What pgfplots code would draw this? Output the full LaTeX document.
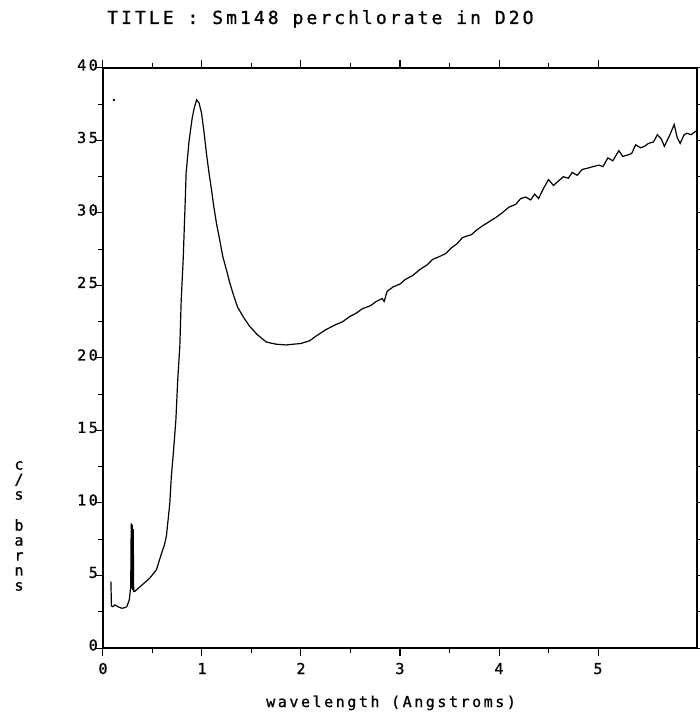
\documentclass[border=0pt]{standalone}
\usepackage{pgfplots}
\pgfplotsset{compat=1.18}
\usepackage{fontspec}
\newfontfamily\mono[LetterSpace=17, FakeBold=1]{DejaVu Sans Mono}
\begin{document}
\begin{tikzpicture}
\useasboundingbox (-103pt,-67pt) rectangle (597pt,648pt);
\begin{axis}[
  at={(0,0)}, anchor=south west,
  scale only axis, width=594pt, height=580pt,
  xmin=0, xmax=6, ymin=0, ymax=40,
  xtick={0,1,2,3,4,5}, ytick={0,5,10,15,20,25,30,35,40},
  minor x tick num=1, minor y tick num=1,
  tick align=outside,
  major tick length=8pt, minor tick length=5pt,
  axis line style={line width=1.4pt},
  every tick/.style={black, line width=1pt},
  /pgf/number format/assume math mode=true,
  xticklabel style={font=\mono\fontsize{15}{15}\selectfont, anchor=base, yshift=-18pt},
  yticklabel style={font=\mono\fontsize{15}{15}\selectfont, anchor=east, inner sep=0pt, xshift=3pt, yshift=3pt},
  xlabel={wavelength (Angstroms)},
  xlabel style={font=\mono\fontsize{15}{15}\selectfont, at={(rel axis cs:0.485,0)}, anchor=base, yshift=-59pt},
  clip=false,
]
\addplot[black, line width=1.2pt] coordinates {
(0.08,4.57) (0.085,2.9) (0.10,2.85) (0.12,2.97) (0.15,2.85) (0.19,2.74) (0.22,2.78)
(0.24,2.85) (0.265,3.3) (0.28,4.2) (0.285,8.6) (0.29,4.1) (0.295,8.5) (0.30,4.0)
(0.305,8.2) (0.31,3.9) (0.32,3.9) (0.37,4.2) (0.42,4.5) (0.47,4.8) (0.54,5.4)
(0.59,6.5) (0.62,7.1) (0.64,7.7) (0.66,9.0) (0.675,10.0) (0.69,11.8) (0.71,13.4)
(0.736,15.7) (0.755,18.5) (0.776,20.8) (0.79,24.0) (0.81,26.8) (0.83,30.7)
(0.84,32.8) (0.87,35.0) (0.90,36.5) (0.92,37.2) (0.945,37.8) (0.97,37.6)
(0.995,36.9) (1.02,35.6) (1.045,34.1) (1.07,32.8) (1.096,31.6) (1.12,30.4)
(1.146,29.3) (1.18,28.1) (1.21,27.0) (1.25,26.0) (1.28,25.2) (1.32,24.3)
(1.36,23.5) (1.42,22.8) (1.48,22.2) (1.56,21.6) (1.65,21.1) (1.75,20.95)
(1.85,20.9) (1.92,20.95) (2.0,21.0) (2.09,21.2) (2.15,21.5) (2.25,21.95)
(2.35,22.3) (2.42,22.5) (2.49,22.85) (2.56,23.1) (2.62,23.4) (2.70,23.6)
(2.76,23.9) (2.82,24.1) (2.84,23.9) (2.87,24.6) (2.93,24.9) (3.0,25.1)
(3.05,25.4) (3.13,25.7) (3.2,26.1) (3.27,26.4) (3.33,26.8) (3.40,27.0)
(3.46,27.2) (3.52,27.6) (3.58,27.9) (3.63,28.3) (3.67,28.4) (3.72,28.5)
(3.77,28.8) (3.83,29.1) (3.9,29.4) (3.97,29.7) (4.03,30.0) (4.1,30.4)
(4.17,30.6) (4.22,31.0) (4.27,31.1) (4.32,30.9) (4.36,31.3) (4.4,31.0)
(4.45,31.7) (4.5,32.3) (4.55,31.9) (4.6,32.2) (4.65,32.5) (4.7,32.4)
(4.74,32.8) (4.79,32.6) (4.84,33.0) (4.9,33.1) (4.95,33.2) (5.01,33.3)
(5.05,33.2) (5.1,33.8) (5.15,33.6) (5.21,34.3) (5.25,33.9) (5.3,34.0)
(5.34,34.1) (5.38,34.7) (5.43,34.5) (5.47,34.6) (5.51,34.8) (5.56,34.9)
(5.6,35.4) (5.64,35.1) (5.67,34.6) (5.72,35.3) (5.77,36.1) (5.8,35.2)
(5.83,34.8) (5.87,35.4) (5.9,35.5) (5.94,35.4) (5.98,35.6) (6.0,35.7)
};
\addplot[only marks, mark=*, mark size=1pt, black] coordinates {(0.11,37.8)};
\end{axis}
\node[font=\mono\fontsize{18}{18}\selectfont, anchor=base west, inner sep=0pt] at (4pt,624pt) {TITLE : Sm148 perchlorate in D2O};
\node[font=\mono\fontsize{15}{15}\selectfont, align=center, inner sep=0pt] at (-84pt,122pt) {c\\/\\s\\[16pt]b\\a\\r\\n\\s};
\end{tikzpicture}
\end{document}
